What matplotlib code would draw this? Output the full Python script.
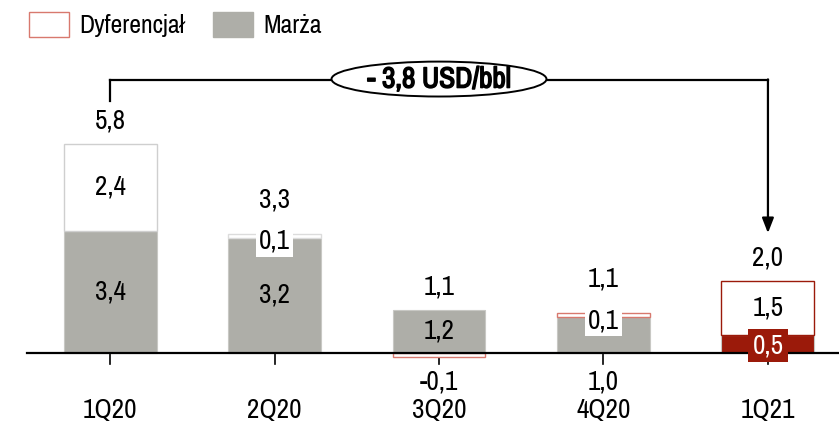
import matplotlib
matplotlib.use("Agg")
import matplotlib.pyplot as plt
from matplotlib import font_manager
import matplotlib.patheffects as pe
from matplotlib.patches import Patch, Ellipse
import numpy as np

# data (USD/bbl)
quarters = ["1Q20", "2Q20", "3Q20", "4Q20", "1Q21"]
marza = [3.4, 3.2, 1.2, 1.0, 0.5]
dyferencjal = [2.4, 0.1, -0.1, 0.1, 1.5]

GRAY = "#aeaea8"
DARK_RED = "#9b1a0a"
LIGHT_RED = "#d8796e"
marza_colors = [GRAY, GRAY, GRAY, GRAY, DARK_RED]
dyf_edges = ["#cfcfcf", "#dcdcdc", LIGHT_RED, LIGHT_RED, DARK_RED]

# look for a narrow face (the original uses Arial Narrow)
names = sorted({f.name for f in font_manager.fontManager.ttflist})
narrow = [n for n in names if "Narrow" in n] + [n for n in names if "Condensed" in n]
family = narrow[:1] if narrow else ["Liberation Sans"]
plt.rcParams["font.family"] = family + ["DejaVu Sans"]
FS = 19.5 if narrow else 17.5
LEG_FS = 18.5 if narrow else 15


def fmt(v):
    return f"{v:.1f}".replace(".", ",")


fig = plt.figure(figsize=(8.39, 4.42), dpi=100)
ax = fig.add_axes([0, 0, 1, 1])
ax.set_xlim(-0.669, 4.432)
ax.set_ylim(-2.472, 9.806)
ax.axis("off")

x = np.arange(len(quarters))
w = 0.565
marza = np.array(marza)
dyf = np.array(dyferencjal)
total = marza + dyf

ax.bar(x, marza, width=w, color=marza_colors, edgecolor="#c8c8c4", linewidth=0.8, zorder=2)
dyf_bottom = np.where(dyf > 0, marza, 0)
ax.bar(x, dyf, bottom=dyf_bottom, width=w, color="white", edgecolor=dyf_edges,
       linewidth=1.0, zorder=2)

# axis line + ticks
ax.plot([-0.505, 4.432], [0, 0], color="black", lw=1.6, zorder=4)
for xi in x:
    ax.plot([xi, xi], [0, -0.3], color="black", lw=1.2, zorder=1)

white_box = dict(boxstyle="square,pad=0.1", fc="white", ec="none")
for i in range(len(x)):
    top = max(marza[i], marza[i] + dyf[i])
    small = abs(dyf[i]) < 0.5
    # total label
    off = 0.6 if (small and dyf[i] > 0) else 0.3
    ax.text(x[i], top + off, fmt(total[i]), ha="center", va="bottom", fontsize=FS, zorder=6)
    # dyferencjal label
    if dyf[i] < 0:
        ax.text(x[i], -0.8, fmt(dyf[i]), ha="center", va="center", fontsize=FS, zorder=6)
    elif small:
        ax.text(x[i], top - 0.2, fmt(dyf[i]), ha="center", va="center", fontsize=FS,
                bbox=white_box, zorder=6)
    else:
        ax.text(x[i], marza[i] + dyf[i] / 2, fmt(dyf[i]), ha="center", va="center",
                fontsize=FS, zorder=6)
    # marza label
    if i == len(x) - 1:
        ax.text(x[i], marza[i] / 2 - 0.05, fmt(marza[i]), ha="center", va="center",
                fontsize=FS, color="white", zorder=6,
                bbox=dict(boxstyle="square,pad=0.15", fc=DARK_RED, ec="none"))
    elif small and dyf[i] > 0 and marza[i] < 1.1:
        ax.text(x[i], -0.8, fmt(marza[i]), ha="center", va="center", fontsize=FS, zorder=6)
    else:
        ax.text(x[i], marza[i] / 2, fmt(marza[i]), ha="center", va="center", fontsize=FS, zorder=6)
    ax.text(x[i], -1.61, quarters[i], ha="center", va="center", fontsize=FS)

# bracket with change between first and last quarter
yb = total.max() + 1.78
ax.plot([x[0], x[0]], [total[0] + 1.2, yb], color="black", lw=1.6, zorder=3)
ax.plot([x[0], x[-1]], [yb, yb], color="black", lw=1.6, zorder=3)
ax.annotate("", xy=(x[-1], total[-1] + 1.33), xytext=(x[-1], yb + 0.02),
            arrowprops=dict(arrowstyle="-|>,head_length=0.9,head_width=0.35",
                            color="black", lw=1.6, shrinkA=0, shrinkB=0), zorder=3)
xm = (x[0] + x[-1]) / 2
ax.add_patch(Ellipse((xm, yb + 0.03), 1.307, 0.97, fc="white", ec="black", lw=1.4, zorder=4))
change = total[-1] - total[0]
ax.text(xm, yb + 0.03, f"- {fmt(abs(change))} USD/bbl", ha="center", va="center",
        fontsize=FS + 1.5, fontweight="bold", zorder=5,
        path_effects=[pe.withStroke(linewidth=1.1, foreground="black")])

handles = [Patch(fc="white", ec=LIGHT_RED, lw=1.0), Patch(fc=GRAY, ec=GRAY)]
fig.legend(handles, ["Dyferencjał", "Marża"], loc="upper left", bbox_to_anchor=(0.018, 1.005),
           ncol=2, frameon=False, fontsize=LEG_FS, handlelength=1.55, handleheight=1.1,
           handletextpad=0.4, columnspacing=1.1, borderaxespad=0.15)

fig.savefig("out.png", dpi=100)
